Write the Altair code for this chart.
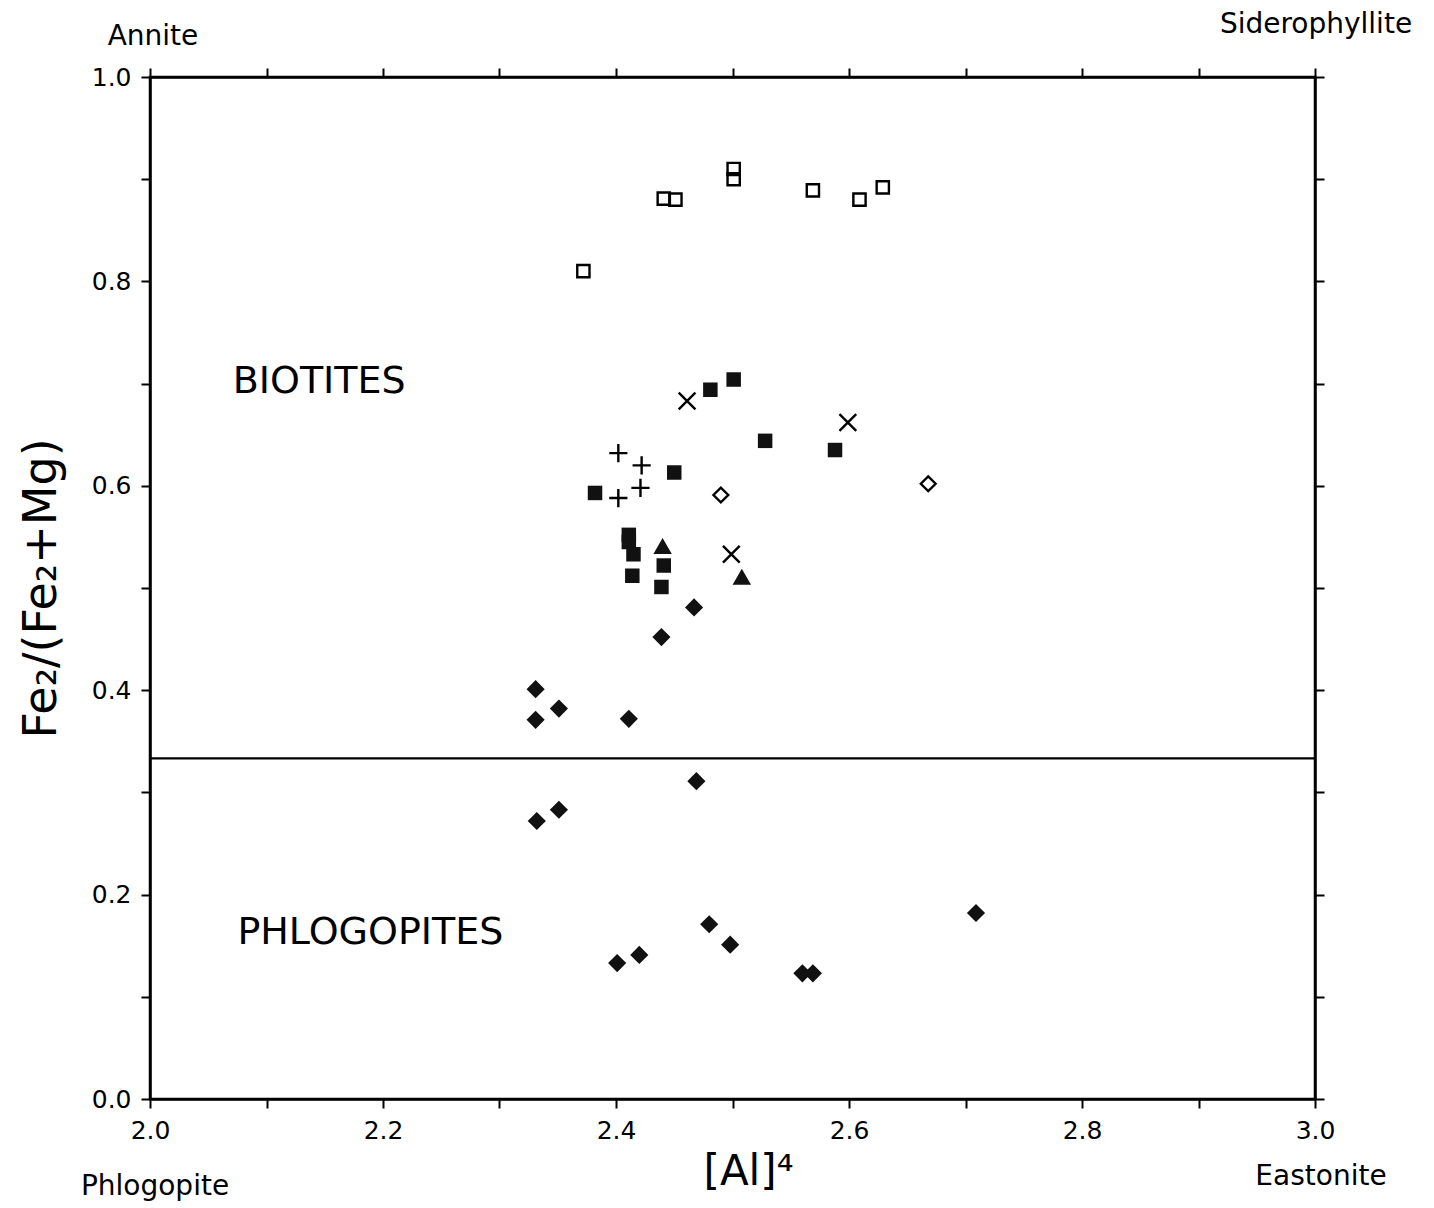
import altair as alt
import pandas as pd

FONT = "DejaVu Sans"

# ---- data ----
open_sq_x = [2.372, 2.441, 2.451, 2.501, 2.501, 2.569, 2.609, 2.629]
open_sq_y = [0.810, 0.881, 0.880, 0.910, 0.900, 0.889, 0.880, 0.892]

fill_sq_x = [2.481, 2.501, 2.528, 2.588, 2.450, 2.382, 2.411, 2.411, 2.415, 2.414, 2.441, 2.439]
fill_sq_y = [0.694, 0.704, 0.644, 0.635, 0.613, 0.593, 0.552, 0.545, 0.533, 0.512, 0.522, 0.501]

plus_x = [2.402, 2.422, 2.421, 2.402]
plus_y = [0.632, 0.620, 0.598, 0.588]

cross_x = [2.461, 2.599, 2.499]
cross_y = [0.683, 0.662, 0.533]

tri_x = [2.440, 2.508]
tri_y = [0.541, 0.511]

open_dia_x = [2.490, 2.668]
open_dia_y = [0.591, 0.602]

fill_dia_x = [2.467, 2.439, 2.331, 2.351, 2.331, 2.411, 2.469, 2.351, 2.332,
              2.480, 2.498, 2.420, 2.401, 2.560, 2.569, 2.709]
fill_dia_y = [0.481, 0.452, 0.401, 0.382, 0.371, 0.372, 0.311, 0.283, 0.272,
              0.171, 0.151, 0.141, 0.133, 0.123, 0.123, 0.182]

boundary_y = [1 / 3]

x_tick_values = [2.0, 2.1, 2.2, 2.3, 2.4, 2.5, 2.6, 2.7, 2.8, 2.9, 3.0]
y_tick_values = [0.0, 0.1, 0.2, 0.3, 0.4, 0.5, 0.6, 0.7, 0.8, 0.9, 1.0]

corner_labels = ["Annite", "Siderophyllite", "Phlogopite", "Eastonite"]
region_labels = ["BIOTITES", "PHLOGOPITES"]
x_title = "[Al]⁴"
y_title = "Fe₂/(Fe₂+Mg)"

# ---- chart ----
xscale = alt.Scale(domain=[2, 3], nice=False, zero=False)
yscale = alt.Scale(domain=[0, 1], nice=False, zero=False)
label_expr = "round(datum.value*10) % 2 == 0 ? format(datum.value, '.1f') : ''"

common_axis = dict(tickSize=9, tickWidth=2, tickColor="black", domainColor="black",
                   domainWidth=2.5, grid=False, labelFont=FONT, labelFontSize=25,
                   labelColor="black", labelFlush=False, titleFont=FONT,
                   titleColor="black", titleFontWeight="normal")

ax_bottom = alt.Axis(orient="bottom", values=x_tick_values, labelExpr=label_expr,
                     title=x_title, labelPadding=10, titleFontSize=42,
                     titlePadding=8, titleX=598, **common_axis)
ax_left = alt.Axis(orient="left", values=y_tick_values, labelExpr=label_expr,
                   title=y_title, labelPadding=10, titleFontSize=46,
                   titlePadding=26, **common_axis)
ax_top = alt.Axis(orient="top", values=x_tick_values, labels=False, title="",
                  **common_axis)
ax_right = alt.Axis(orient="right", values=y_tick_values, labels=False, title="",
                    **common_axis)


def pts(xs, ys):
    return pd.DataFrame({"al4": xs, "fe": ys})


def enc(chart, xaxis=None, yaxis=None):
    return chart.encode(
        x=alt.X("al4:Q", scale=xscale, axis=xaxis),
        y=alt.Y("fe:Q", scale=yscale, axis=yaxis),
    )


open_sq = enc(alt.Chart(pts(open_sq_x, open_sq_y)).mark_point(
    shape="square", filled=False, size=150, strokeWidth=2.4, color="black", opacity=1),
    ax_bottom, ax_left)
fill_sq = enc(alt.Chart(pts(fill_sq_x, fill_sq_y)).mark_point(
    shape="square", filled=True, size=210, color="#111111", opacity=1),
    ax_top, ax_right)
plus = enc(alt.Chart(pts(plus_x, plus_y)).mark_point(
    shape="M-1,0L1,0M0,-1L0,1", filled=False, size=330, strokeWidth=2.4,
    color="black", opacity=1))
cross = enc(alt.Chart(pts(cross_x, cross_y)).mark_point(
    shape="M-1,-1L1,1M-1,1L1,-1", filled=False, size=280, strokeWidth=2.4,
    color="black", opacity=1))
tri = enc(alt.Chart(pts(tri_x, tri_y)).mark_point(
    shape="triangle-up", filled=True, size=340, color="#111111", opacity=1))
open_dia = enc(alt.Chart(pts(open_dia_x, open_dia_y)).mark_point(
    shape="diamond", filled=False, size=220, strokeWidth=2.4, color="black", opacity=1))
fill_dia = enc(alt.Chart(pts(fill_dia_x, fill_dia_y)).mark_point(
    shape="diamond", filled=True, size=330, color="#111111", opacity=1))

rule = alt.Chart(pd.DataFrame({"fe": boundary_y})).mark_rule(
    color="black", strokeWidth=2.2).encode(
    y=alt.Y("fe:Q", scale=yscale, axis=None))


def region_text(label, xd, yd):
    return alt.Chart(pd.DataFrame({"t": [label]})).mark_text(
        font=FONT, fontSize=38, align="left", baseline="alphabetic", color="black"
    ).encode(
        text="t:N",
        x=alt.XDatum(xd, type="quantitative", scale=xscale, axis=None),
        y=alt.YDatum(yd, type="quantitative", scale=yscale, axis=None),
    )


def corner_text(label, px, py):
    return alt.Chart(pd.DataFrame({"t": [label]})).mark_text(
        font=FONT, fontSize=28, align="center", baseline="alphabetic", color="black"
    ).encode(text="t:N", x=alt.value(px), y=alt.value(py))


biot = region_text(region_labels[0], 2.071, 0.691)
phlo = region_text(region_labels[1], 2.075, 0.152)

c1 = corner_text(corner_labels[0], 3, -32)
c2 = corner_text(corner_labels[1], 1166, -44)
c3 = corner_text(corner_labels[2], 5, 1118)
c4 = corner_text(corner_labels[3], 1171, 1108)

chart = alt.layer(
    rule, open_sq, fill_sq, plus, cross, tri, open_dia, fill_dia,
    biot, phlo, c1, c2, c3, c4
).resolve_axis(x="independent", y="independent").properties(
    width=1165, height=1022,
    autosize=alt.AutoSizeParams(type="none"),
    padding={"left": 142, "top": 69, "right": 110, "bottom": 105},
    background="white",
).configure_view(stroke="black", strokeWidth=2.5)

chart.save("out.html", embed_options={"renderer": "svg", "actions": False})
